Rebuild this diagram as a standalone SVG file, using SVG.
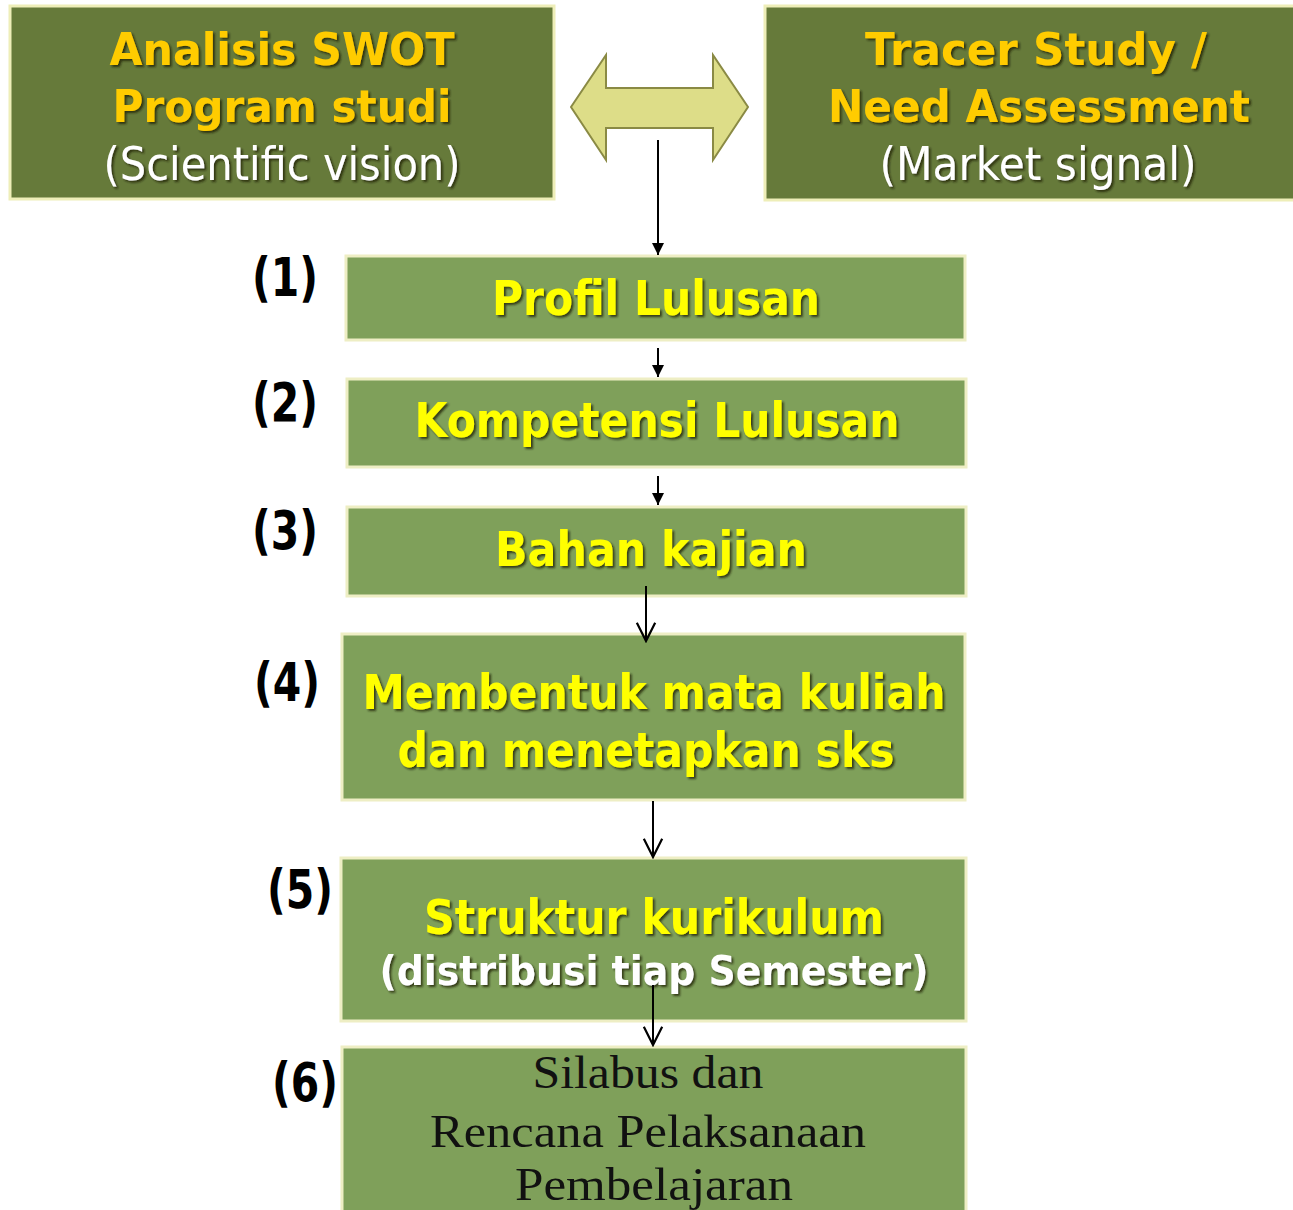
<svg xmlns="http://www.w3.org/2000/svg" width="1293" height="1210" viewBox="0 0 1293 1210">
  <defs>
    <style>
      .top { fill: #667A3A; stroke: #EEEEB8; stroke-width: 3; }
      .box { fill: #7FA05A; stroke: #EEEEC4; stroke-width: 3; }
      .head { font-family: "DejaVu Sans", "Liberation Sans", sans-serif; font-weight: bold; fill: #FFCC00; filter: url(#shadow); }
      .sub { font-family: "DejaVu Sans", "Liberation Sans", sans-serif; fill: #FFFFFF; filter: url(#shadow); }
      .yel { font-family: "DejaVu Sans", "Liberation Sans", sans-serif; font-weight: bold; fill: #FFFF00; filter: url(#shadow); }
      .wht { font-family: "DejaVu Sans", "Liberation Sans", sans-serif; font-weight: bold; fill: #FFFFFF; filter: url(#shadow); }
      .ser { font-family: "Liberation Serif", "DejaVu Serif", serif; fill: #111111; }
      .num { font-family: "DejaVu Sans", "Liberation Sans", sans-serif; font-weight: bold; fill: #000000; font-size: 54px; }
      .line { stroke: #000000; stroke-width: 2; fill: none; }
    </style>
    <filter id="shadow" x="-5%" y="-20%" width="110%" height="140%">
      <feDropShadow dx="2" dy="2" stdDeviation="1" flood-color="#1a1a00" flood-opacity="0.75"/>
    </filter>
    <marker id="solid" viewBox="0 0 10 10" refX="10" refY="5" markerWidth="6" markerHeight="6" markerUnits="strokeWidth" orient="auto">
      <path d="M0,0 L10,5 L0,10 Z" fill="#000000"/>
    </marker>
    <marker id="open" viewBox="0 0 12 12" refX="11" refY="6" markerWidth="11" markerHeight="11" markerUnits="strokeWidth" orient="auto">
      <path d="M1,1 L11,6 L1,11" fill="none" stroke="#000000" stroke-width="1.2"/>
    </marker>
  </defs>

  <rect width="1293" height="1210" fill="#FFFFFF"/>

  <g id="swot">
    <rect class="top" x="10" y="6" width="544" height="193"/>
    <text class="head" x="282" y="65" font-size="44" text-anchor="middle" textLength="345" lengthAdjust="spacingAndGlyphs">Analisis SWOT</text>
    <text class="head" x="282" y="122" font-size="44" text-anchor="middle" textLength="339" lengthAdjust="spacingAndGlyphs">Program studi</text>
    <text class="sub" x="282" y="180" font-size="46" text-anchor="middle" textLength="357" lengthAdjust="spacingAndGlyphs">(Scientific vision)</text>
  </g>

  <g id="tracer">
    <rect class="top" x="765" y="6" width="535" height="194"/>
    <text class="head" x="1036" y="65" font-size="44" text-anchor="middle" textLength="342" lengthAdjust="spacingAndGlyphs">Tracer Study /</text>
    <text class="head" x="1039" y="122" font-size="44" text-anchor="middle" textLength="422" lengthAdjust="spacingAndGlyphs">Need Assessment</text>
    <text class="sub" x="1038" y="180" font-size="46" text-anchor="middle" textLength="317" lengthAdjust="spacingAndGlyphs">(Market signal)</text>
  </g>

  <g id="step1">
    <text class="num" x="252" y="296" textLength="66" lengthAdjust="spacingAndGlyphs">(1)</text>
    <rect class="box" x="346" y="256" width="619" height="84"/>
    <text class="yel" x="656" y="315" font-size="48" text-anchor="middle" textLength="328" lengthAdjust="spacingAndGlyphs">Profil Lulusan</text>
  </g>

  <g id="step2">
    <text class="num" x="252" y="421" textLength="66" lengthAdjust="spacingAndGlyphs">(2)</text>
    <rect class="box" x="347" y="379" width="619" height="88"/>
    <text class="yel" x="657" y="437" font-size="48" text-anchor="middle" textLength="485" lengthAdjust="spacingAndGlyphs">Kompetensi Lulusan</text>
  </g>

  <g id="step3">
    <text class="num" x="252" y="549" textLength="66" lengthAdjust="spacingAndGlyphs">(3)</text>
    <rect class="box" x="347" y="507" width="619" height="89"/>
    <text class="yel" x="651" y="566" font-size="48" text-anchor="middle" textLength="312" lengthAdjust="spacingAndGlyphs">Bahan kajian</text>
  </g>

  <g id="step4">
    <text class="num" x="254" y="701" textLength="66" lengthAdjust="spacingAndGlyphs">(4)</text>
    <rect class="box" x="342" y="634" width="623" height="166"/>
    <text class="yel" x="654" y="709" font-size="48" text-anchor="middle" textLength="583" lengthAdjust="spacingAndGlyphs">Membentuk mata kuliah</text>
    <text class="yel" x="646" y="767" font-size="48" text-anchor="middle" textLength="497" lengthAdjust="spacingAndGlyphs">dan menetapkan sks</text>
  </g>

  <g id="step5">
    <text class="num" x="267" y="908" textLength="66" lengthAdjust="spacingAndGlyphs">(5)</text>
    <rect class="box" x="341" y="858" width="625" height="163"/>
    <text class="yel" x="654" y="934" font-size="48" text-anchor="middle" textLength="460" lengthAdjust="spacingAndGlyphs">Struktur kurikulum</text>
    <text class="wht" x="654" y="985" font-size="40" text-anchor="middle" textLength="549" lengthAdjust="spacingAndGlyphs">(distribusi tiap Semester)</text>
  </g>

  <g id="step6">
    <text class="num" x="272" y="1101" textLength="66" lengthAdjust="spacingAndGlyphs">(6)</text>
    <rect class="box" x="342" y="1047" width="624" height="170"/>
    <text class="ser" x="648" y="1088" font-size="46" text-anchor="middle" textLength="231" lengthAdjust="spacingAndGlyphs">Silabus dan</text>
    <text class="ser" x="648" y="1147" font-size="46" text-anchor="middle" textLength="436" lengthAdjust="spacingAndGlyphs">Rencana Pelaksanaan</text>
    <text class="ser" x="654" y="1200" font-size="46" text-anchor="middle" textLength="278" lengthAdjust="spacingAndGlyphs">Pembelajaran</text>
  </g>

  <!-- connectors, drawn last so shafts that cross box edges stay visible -->
  <g id="connectors">
    <path id="link-swot-tracer" d="M571,107 L606,55 L606,88 L713,88 L713,55 L748,107 L713,160 L713,128 L606,128 L606,160 Z" fill="#DDDD88" stroke="#8A8A44" stroke-width="2"/>
    <line class="line" x1="658" y1="140" x2="658" y2="255" marker-end="url(#solid)"/>
    <line class="line" x1="658" y1="348" x2="658" y2="377" marker-end="url(#solid)"/>
    <line class="line" x1="658" y1="476" x2="658" y2="505" marker-end="url(#solid)"/>
    <line class="line" x1="646" y1="586" x2="646" y2="641" marker-end="url(#open)"/>
    <line class="line" x1="653" y1="801" x2="653" y2="857" marker-end="url(#open)"/>
    <line class="line" x1="653" y1="985" x2="653" y2="1045" marker-end="url(#open)"/>
  </g>
</svg>
